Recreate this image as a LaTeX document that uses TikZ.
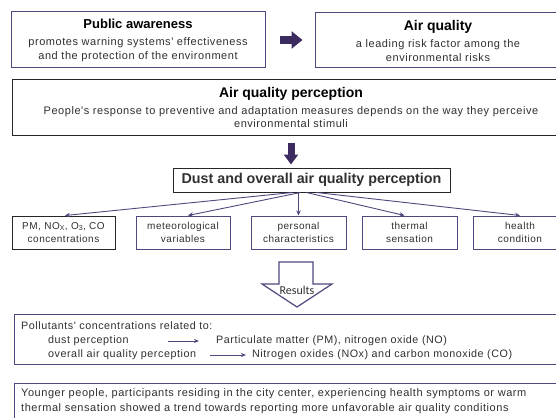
\documentclass[tikz,border=0pt]{standalone}
\usepackage{fontspec}
\setmainfont{Liberation Sans}
\newfontfamily\spacedsans[LetterSpace=5]{Liberation Sans}
\newfontfamily\headfam{Liberation Sans}
\newfontfamily\resultsfam{Carlito}
\usetikzlibrary{arrows.meta}

\definecolor{lnpurple}{HTML}{54477E}
\definecolor{arrpurple}{HTML}{3B2B5E}
\definecolor{boxblack}{HTML}{262626}
\definecolor{txtgray}{HTML}{303030}

\newcommand\headfont{\headfam\bfseries\color{black}}
\newcommand\topbody{\spacedsans\fontsize{11}{13.5}\selectfont}
\newcommand\midbody{\spacedsans\fontsize{10}{13}\selectfont}
\newcommand\lowbody{\spacedsans\fontsize{10.75}{14}\selectfont}
\newcommand\lastbody{\spacedsans\fontsize{11}{14}\selectfont}

\tikzset{
  pbox/.style={draw=lnpurple, line width=1pt, inner sep=0pt, align=center, text=txtgray},
  kbox/.style={pbox, draw=boxblack},
  factor/.style={pbox, minimum width=95pt, minimum height=33pt, font=\midbody},
  conn/.style={draw=lnpurple, line width=0.9pt, -{Stealth[length=5pt,width=4.5pt]}},
  thin/.style={draw=lnpurple, line width=0.8pt, -{Stealth[length=5pt,width=4pt]}},
  lowtext/.style={anchor=west, inner sep=0pt, font=\lowbody, text=txtgray},
  bigarrow/.style={draw=arrpurple, line width=8pt, -{Triangle[length=11pt,width=17pt]}},
  downarrow/.style={draw=arrpurple, line width=7pt, -{Triangle[length=10pt,width=14pt]}},
}

\begin{document}
\begin{tikzpicture}[x=1pt, y=-1pt]
\useasboundingbox (0,0) rectangle (556,417);
\clip (0,0) rectangle (556,417);
\fill[white] (0,0) rectangle (556,417);

% top row
\node[pbox, minimum width=254pt, minimum height=56pt, font=\topbody] (pa) at (138,40)
  {{\headfont\fontsize{13}{15}\selectfont Public awareness}\\[4pt]
   promotes warning systems' effectiveness\\ and the protection of the environment};
\node[pbox, minimum width=246pt, minimum height=55pt, font=\topbody] (aq) at (438,40.5)
  {{\headfont\fontsize{14}{16}\selectfont Air quality}\\[4pt]
   a leading risk factor among the\\ environmental risks};
\draw[bigarrow] ([xshift=14pt]pa.east) -- ([xshift=-12pt]pa.east -| aq.west);

% perception
\node[kbox, minimum width=558pt, minimum height=55pt, font=\topbody] (apq) at (291,107.5)
  {{\headfont\fontsize{14}{16}\selectfont Air quality perception}\\[3pt]
   People's response to preventive and adaptation measures depends on the way they perceive\\
   environmental stimuli};

\node[kbox, minimum width=277pt, minimum height=24pt, font=\headfont\fontsize{14.3}{16}\selectfont] (dust) at (311.5,180)
  {Dust and overall air quality perception};
\draw[downarrow] ([yshift=-7pt]apq.south) -- ([yshift=3pt]apq.south |- dust.north);

% factors
\node[factor, draw=boxblack, minimum width=103pt] (pm) at (63.5,232.5)
  {PM, NO\textsubscript{X}, O\textsubscript{3}, CO\\ concentrations};
\node[factor, minimum width=94pt] (met) at (183,232.5) {meteorological\\ variables};
\node[factor] (pers) at (298.5,232.5) {personal\\ characteristics};
\node[factor] (therm) at (409.5,232.5) {thermal\\ sensation};
\node[factor, minimum width=94pt] (hlth) at (520,232.5) {health\\ condition};

\draw[conn] ([xshift=-19pt]dust.south) -- ([xshift=1.5pt]pm.north);
\draw[conn] ([xshift=-11pt]dust.south) -- ([xshift=5pt]met.north);
\draw[conn] (pers.north |- dust.south) -- (pers.north);
\draw[conn] ([xshift=-5pt]dust.south) -- ([xshift=-5pt]therm.north);
\draw[conn] ([xshift=5pt]dust.south) -- (hlth.north);

% results arrow
\draw[draw=lnpurple, line width=1.2pt, line join=miter, fill=white]
  (279,262) -- (313,262) -- (313,284) -- (332,284) -- (297,307) -- (262,284) -- (279,284) -- cycle;
\node[inner sep=0pt, font=\resultsfam\fontsize{12}{14}\selectfont, text=txtgray] (res) at (297,290) {Results};

% pollutants
\node[pbox, minimum width=556pt, minimum height=50pt, anchor=north west] (pol) at (14,314) {};
\node[lowtext] (pl1) at (21,326) {Pollutants' concentrations related to:};
\node[lowtext] (pl2) at (48,341) {dust perception};
\node[lowtext] (pl2b) at (216,341) {Particulate matter (PM), nitrogen oxide (NO)};
\node[lowtext] (pl3) at (48,355) {overall air quality perception};
\node[lowtext] (pl3b) at (252,355) {Nitrogen oxides (NOx) and carbon monoxide (CO)};
\coordinate (a1s) at (168,341);
\coordinate (a2s) at (210,355);
\draw[thin] (a1s) -- ([xshift=-17pt]a1s -| pl2b.west);
\draw[thin] (a2s) -- ([xshift=-6pt]a2s -| pl3b.west);

% conclusion
\node[pbox, minimum width=556pt, minimum height=60pt, anchor=north west] (concl) at (14,383) {};
\node[lowtext, font=\lastbody] (cl1) at (21,394) {Younger people, participants residing in the city center, experiencing health symptoms or warm};
\node[lowtext, font=\lastbody] (cl2) at (21,409) {thermal sensation showed a trend towards reporting more unfavorable air quality conditions};
\end{tikzpicture}
\end{document}
